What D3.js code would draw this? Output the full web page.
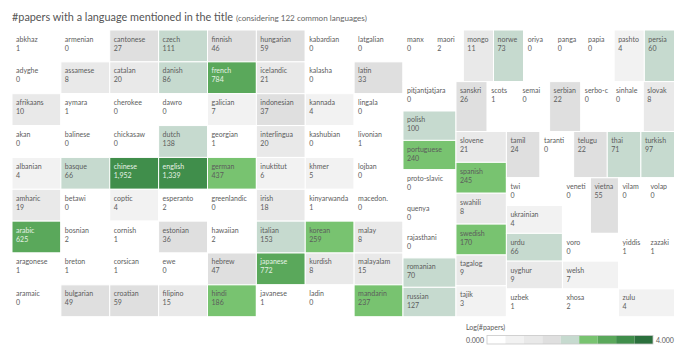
<!DOCTYPE html>
<html><head><meta charset="utf-8">
<script src="https://cdn.jsdelivr.net/npm/d3@7"></script>
<style>body{margin:0;background:#fff;} text{font-family:Lato, "Open Sans", sans-serif;}</style>
</head><body><svg id="c" width="700" height="355"></svg>
<script>
// Languages in alphabetical (treemap) order
const languages = [
 "abkhaz","adyghe","afrikaans","akan","albanian","amharic","arabic","aragonese","aramaic",
 "armenian","assamese","aymara","balinese","basque","betawi","bosnian","breton","bulgarian",
 "cantonese","catalan","cherokee","chickasaw","chinese","coptic","cornish","corsican","croatian",
 "czech","danish","dawro","dutch","english","esperanto","estonian","ewe","filipino",
 "finnish","french","galician","georgian","german","greenlandic","hawaiian","hebrew","hindi",
 "hungarian","icelandic","indonesian","interlingua","inuktitut","irish","italian","japanese","javanese",
 "kabardian","kalasha","kannada","kashubian","khmer","kinyarwanda","korean","kurdish","ladin",
 "latgalian","latin","lingala","livonian","lojban","macedon.","malay","malayalam","mandarin",
 "manx","maori","mongo","norwe","oriya","panga","papia","pashto","persia",
 "pitjantjatjara","polish","portuguese","proto-slavic","quenya","rajasthani","romanian","russian",
 "sanskri","scots","semai","serbian","serbo-c","sinhale","slovak",
 "slovene","spanish","swahili","swedish","tagalog","tajik",
 "tamil","taranti","telugu","thai","turkish",
 "twi","ukrainian","urdu","uyghur","uzbek",
 "veneti","vietna","vilam","volap",
 "voro","welsh","xhosa",
 "yiddis","zazaki",
 "zulu"
];
const papers = [
 1,0,10,0,4,19,625,1,0,
 0,8,1,0,66,0,2,1,49,
 27,20,0,0,1952,4,1,1,59,
 111,86,0,138,1339,2,36,0,15,
 46,784,7,1,437,0,2,47,186,
 59,21,37,20,6,18,153,772,1,
 0,0,4,0,5,1,259,8,0,
 0,33,0,1,0,0,8,15,237,
 0,2,11,73,0,0,0,4,60,
 0,100,240,0,0,0,70,127,
 26,1,0,22,0,0,8,
 21,245,8,170,9,3,
 24,0,22,71,97,
 0,4,66,9,1,
 0,55,0,0,
 0,7,2,
 1,1,
 4
];
const titleText = "#papers with a language mentioned in the title";
const subtitleText = "(considering 122 common languages)";
const legendTitle = "Log(#papers)";
const legendDomain = [0, 4];
const legendTickLabels = ["0.000", "4.000"];
const stepColors = ["#ffffff","#f2f2f2","#e9e9e9","#dfdfdf","#c6dacf","#78c370","#5aa85b","#408e4b","#2b703d"];

const svg = d3.select("#c");
const fmt = d3.format(",");

// font size fitted so a text measures a target width
function fitSize(str, target) {
  const t = svg.append("text").attr("font-size", 10).text(str);
  const w = t.node().getComputedTextLength();
  t.remove();
  return 10 * target / w;
}

const title = svg.append("text").attr("x", 12).attr("y", 21)
  .attr("font-size", fitSize(titleText, 221)).attr("fill", "#555").text(titleText);
const tw = title.node().getComputedTextLength();
svg.append("text").attr("x", 12 + tw + 3).attr("y", 21)
  .attr("font-size", fitSize(subtitleText, 131)).attr("fill", "#666").text(subtitleText);

const color = d3.scaleQuantize().domain(legendDomain).range(stepColors);
const fillOf = v => v > 0 ? color(Math.log10(v)) : "#ffffff";
const darkStep = v => v > 0 && stepColors.indexOf(color(Math.log10(v))) >= 6;

const root = d3.hierarchy({children: languages.map((l, i) => ({name: l, value: papers[i]}))})
  .sum(d => d.children ? 0 : 1);
d3.treemap().tile(d3.treemapSquarify).size([662.5, 286.7])(root);

const labelSize = fitSize("kabardian", 30);
const g = svg.append("g").attr("transform", "translate(12,30)");
const cell = g.selectAll("g.cell").data(root.leaves()).join("g").attr("class", "cell")
  .attr("transform", d => `translate(${d.x0},${d.y0})`);
cell.append("rect")
  .attr("width", d => d.x1 - d.x0).attr("height", d => d.y1 - d.y0)
  .attr("fill", d => fillOf(d.data.value)).attr("stroke", "#fff").attr("stroke-width", 1);
cell.append("text").attr("x", 4).attr("y", 11.5).attr("font-size", labelSize)
  .attr("fill", d => darkStep(d.data.value) ? "#e6f2e6" : "#5c5c5c")
  .text(d => d.data.name);
cell.append("text").attr("x", 4).attr("y", 20.5).attr("font-size", labelSize)
  .attr("fill", d => darkStep(d.data.value) ? "#e6f2e6" : "#5c5c5c")
  .text(d => fmt(d.data.value));

// Legend
const lx = d3.scaleLinear().domain(legendDomain).range([487, 653]);
const lg = svg.append("g");
lg.append("text").attr("x", 466).attr("y", 329.5).attr("font-size", labelSize).attr("fill", "#5c5c5c").text(legendTitle);
const steps = d3.range(stepColors.length).map(i => [legendDomain[0] + i * (legendDomain[1] - legendDomain[0]) / stepColors.length,
  legendDomain[0] + (i + 1) * (legendDomain[1] - legendDomain[0]) / stepColors.length]);
lg.selectAll("rect.step").data(steps).join("rect").attr("class", "step")
  .attr("x", d => lx(d[0])).attr("width", d => lx(d[1]) - lx(d[0]))
  .attr("y", 335.5).attr("height", 8.5).attr("fill", (d, i) => stepColors[i]);
lg.append("rect").attr("x", lx(0)).attr("y", 335.5).attr("width", lx(4) - lx(0)).attr("height", 8.5)
  .attr("fill", "none").attr("stroke", "#c8c8c8").attr("stroke-width", 0.8);
lg.append("text").attr("x", lx(0) - 3).attr("y", 342.5).attr("text-anchor", "end").attr("font-size", labelSize).attr("fill", "#5c5c5c").text(legendTickLabels[0]);
lg.append("text").attr("x", lx(4) + 3).attr("y", 342.5).attr("font-size", labelSize).attr("fill", "#5c5c5c").text(legendTickLabels[1]);
</script></body></html>
